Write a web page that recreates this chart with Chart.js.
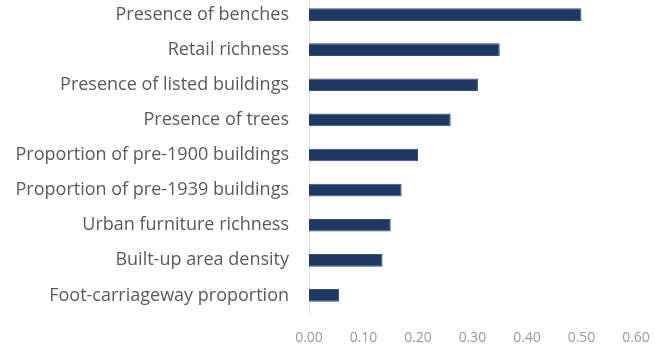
<!DOCTYPE html>
<html>
<head>
<meta charset="utf-8">
<script src="https://cdn.jsdelivr.net/npm/chart.js@4"></script>
<style>
  html, body { margin: 0; padding: 0; background: #fff; }
  #wrap { width: 655px; height: 357px; margin-top: -3px; }
</style>
</head>
<body>
<div id="wrap"><canvas id="myChart"></canvas></div>
<script>
const labels = [
  'Presence of benches',
  'Retail richness',
  'Presence of listed buildings',
  'Presence of trees',
  'Proportion of pre-1900 buildings',
  'Proportion of pre-1939 buildings',
  'Urban furniture richness',
  'Built-up area density',
  'Foot-carriageway proportion',
];

const values = [0.50, 0.35, 0.31, 0.26, 0.20, 0.17, 0.15, 0.135, 0.055];

const xTicks = [0, 0.1, 0.2, 0.3, 0.4, 0.5, 0.6];

const data = {
  labels: labels,
  datasets: [{
    label: 'Importance',
    backgroundColor: '#203864',
    borderColor: '#33507f',
    borderWidth: 1,
    barPercentage: 0.8,
    categoryPercentage: 0.45,
    data: values,
  }]
};

const config = {
  type: 'bar',
  data: data,
  options: {
    indexAxis: 'y',
    responsive: true,
    maintainAspectRatio: false,
    animation: false,
    layout: { padding: { top: 0, right: 19, bottom: 0, left: 0 } },
    plugins: {
      legend: { display: false },
      tooltip: { enabled: false },
    },
    scales: {
      x: {
        min: 0,
        max: 0.6,
        afterBuildTicks: (axis) => {
          axis.ticks = xTicks.map((v) => ({ value: v }));
        },
        afterFit: (axis) => {
          axis.height = 41;
          axis.paddingLeft = 0;
          axis.paddingRight = 0;
        },
        grid: { display: false, drawTicks: false },
        border: { display: false },
        ticks: {
          padding: 17,
          color: '#9a9a9a',
          font: { family: 'Open Sans', size: 14 },
          callback: (v) => Number(v).toFixed(2),
        },
      },
      y: {
        // keep the axis flush with the top and bottom of the plot
        afterFit: (axis) => {
          axis.width = 309;
          axis.paddingTop = 0;
          axis.paddingBottom = 0;
        },
        grid: { display: false, drawTicks: false },
        border: { display: true, color: '#e3dcdc', width: 1 },
        ticks: {
          padding: 20,
          color: '#5a5a5a',
          font: { family: 'Open Sans', size: 18 },
        },
      },
    },
  },
};

const myChart = new Chart(
  document.getElementById('myChart'),
  config
);
</script>
</body>
</html>
